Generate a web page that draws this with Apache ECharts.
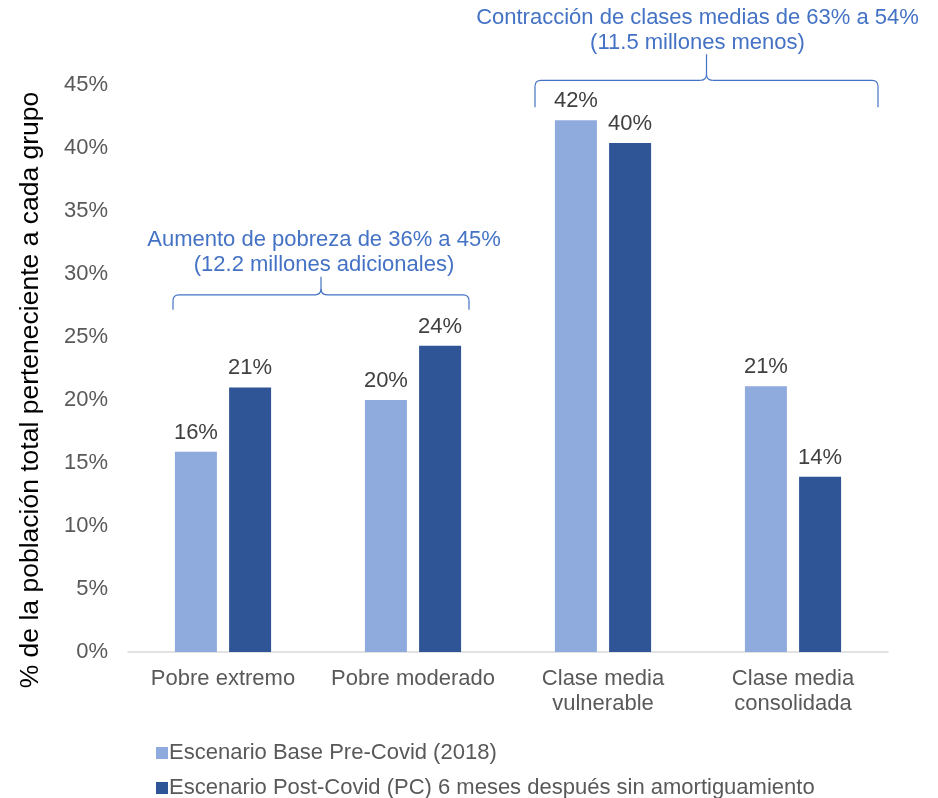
<!DOCTYPE html>
<html><head><meta charset="utf-8">
<script src="https://cdn.jsdelivr.net/npm/echarts@6/dist/echarts.min.js"></script>
<style>html,body{margin:0;padding:0;background:#fff}#c{width:938px;height:798px}</style>
</head><body><div id="c"></div>
<script>
const categories = ['Pobre extremo', 'Pobre moderado', 'Clase media\nvulnerable', 'Clase media\nconsolidada'];
const preCovid = [15.9, 20.0, 42.2, 21.1];
const postCovid = [21.0, 24.3, 40.4, 13.9];
const seriesNames = ['Escenario Base Pre-Covid (2018)', 'Escenario Post-Covid (PC) 6 meses después sin amortiguamiento'];
const yTicks = [0, 5, 10, 15, 20, 25, 30, 35, 40, 45];
const noteTexts = ['Aumento de pobreza de 36% a 45%\n(12.2 millones adicionales)', 'Contracción de clases medias de 63% a 54%\n(11.5 millones menos)'];
const noteRanges = [[0, 1], [2, 3]];
// bracket geometry (style only): padding left/right of category centers, gap above tallest bar, arm & peak heights, text shift
const noteStyle = [
  {padL: 50, padR: 56, gap: 36, arm: 15, peak: 18, textDx: 3},
  {padL: 68, padR: 85, gap: 13, arm: 27, peak: 26, textDx: -9}
];

const FONT = '"Liberation Sans", Arial, sans-serif';
const FS = 22;
const chart = echarts.init(document.getElementById('c'));
const labelCfg = {show: true, position: 'top', distance: 8, color: '#404040', fontSize: FS, fontFamily: FONT,
  formatter: p => Math.round(p.value) + '%'};
const legendText = {fontSize: FS, color: '#595959', fontFamily: FONT, padding: [0, 0, 0, -4]};
chart.setOption({
  animation: false,
  textStyle: {fontFamily: FONT},
  grid: {left: 128, right: 50, top: 85, bottom: 146, containLabel: false},
  legend: [
    {left: 151, top: 737, itemWidth: 12, itemHeight: 12, icon: 'rect', textStyle: legendText, data: [seriesNames[0]]},
    {left: 151, top: 772, itemWidth: 12, itemHeight: 12, icon: 'rect', textStyle: legendText, data: [seriesNames[1]]}
  ],
  xAxis: {type: 'category', data: categories,
    axisLine: {lineStyle: {color: '#D9D9D9', width: 1.5}}, axisTick: {show: false},
    axisLabel: {interval: 0, color: '#595959', fontSize: FS, fontFamily: FONT, margin: 14, lineHeight: 25}},
  yAxis: {type: 'value', min: yTicks[0], max: yTicks[yTicks.length - 1], interval: 5,
    axisLine: {show: false}, axisTick: {show: false}, splitLine: {show: false},
    axisLabel: {color: '#595959', fontSize: FS, fontFamily: FONT, margin: 20, formatter: v => v + '%'}},
  series: [
    {name: seriesNames[0], type: 'bar', data: preCovid, barWidth: 42, barGap: '29%',
      itemStyle: {color: '#8FAADC'}, label: labelCfg},
    {name: seriesNames[1], type: 'bar', data: postCovid, barWidth: 42,
      itemStyle: {color: '#2F5597'}, label: labelCfg}
  ]
});

const LS = {stroke: '#4472C4', lineWidth: 1.2, fill: null};
function bracket(x1, x2, yBottom, yLine, yPeak) {
  const m = (x1 + x2) / 2, r = 6;
  const els = [];
  const line = (a, b, c, d) => els.push({type: 'line', shape: {x1: a, y1: b, x2: c, y2: d}, style: LS});
  const curve = (a, b, cx, cy, c, d) => els.push({type: 'bezierCurve', shape: {x1: a, y1: b, cpx1: cx, cpy1: cy, x2: c, y2: d}, style: LS});
  line(x1, yBottom, x1, yLine + r);
  curve(x1, yLine + r, x1, yLine, x1 + r, yLine);
  line(x1 + r, yLine, m - r, yLine);
  curve(m - r, yLine, m, yLine, m, yLine - r);
  line(m, yLine - r, m, yPeak);
  curve(m, yLine - r, m, yLine, m + r, yLine);
  line(m + r, yLine, x2 - r, yLine);
  curve(x2 - r, yLine, x2, yLine, x2, yLine + r);
  line(x2, yLine + r, x2, yBottom);
  return els;
}
const g = [];
noteTexts.forEach((txt, k) => {
  const [from, to] = noteRanges[k];
  const s = noteStyle[k];
  const xa = chart.convertToPixel({xAxisIndex: 0}, from) - s.padL;
  const xb = chart.convertToPixel({xAxisIndex: 0}, to) + s.padR;
  const vals = [];
  for (let i = from; i <= to; i++) { vals.push(preCovid[i], postCovid[i]); }
  const top = chart.convertToPixel({yAxisIndex: 0}, Math.max(...vals));
  const yBottom = top - s.gap, yLine = yBottom - s.arm, yPeak = yLine - s.peak;
  bracket(xa, xb, yBottom, yLine, yPeak).forEach(e => g.push(e));
  g.push({type: 'text', x: (xa + xb) / 2 + s.textDx, y: yPeak + 1,
    style: {text: txt, fill: '#4472C4', fontSize: FS, fontFamily: FONT, align: 'center', verticalAlign: 'bottom', lineHeight: 25}});
});
g.push({type: 'text', x: 31, y: 390, rotation: Math.PI / 2,
  style: {text: '% de la población total perteneciente a cada grupo', fill: '#000', fontSize: 26.5, fontFamily: FONT,
    align: 'center', verticalAlign: 'middle'}});
chart.setOption({graphic: g});
</script></body></html>
